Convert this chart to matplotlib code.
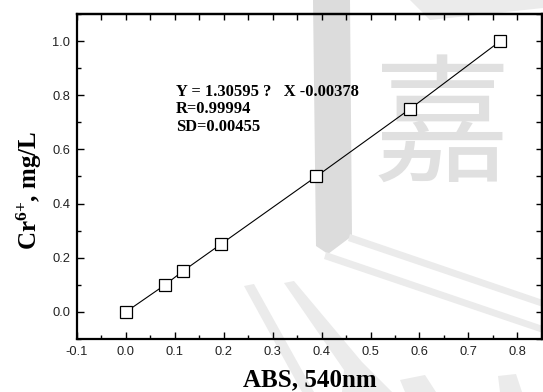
import numpy as np
import matplotlib
matplotlib.use("Agg")
import matplotlib.pyplot as plt
from matplotlib.ticker import MultipleLocator
from matplotlib.patches import Polygon

plt.rcParams["mathtext.fontset"] = "custom"
plt.rcParams["mathtext.bf"] = "Liberation Serif:bold"
plt.rcParams["mathtext.rm"] = "Liberation Serif:bold"
plt.rcParams["mathtext.it"] = "Liberation Serif:bold"

# Calibration data: absorbance at 540 nm vs Cr(VI) concentration
absorbance = [0.000, 0.080, 0.116, 0.194, 0.389, 0.581, 0.765]
concentration = [0.00, 0.10, 0.15, 0.25, 0.50, 0.75, 1.00]

fit_lines = ["Y = 1.30595 ?   X -0.00378", "R=0.99994", "SD=0.00455"]

x_ticks = [-0.1, 0.0, 0.1, 0.2, 0.3, 0.4, 0.5, 0.6, 0.7, 0.8]
y_ticks = [0.0, 0.2, 0.4, 0.6, 0.8, 1.0]

serif = "Liberation Serif"
sans = "Liberation Sans"

W, H = 543, 392
fig = plt.figure(figsize=(W / 100, H / 100), dpi=100)
fig.patch.set_facecolor("white")


def px(points):
    """Pixel positions (origin top-left) to figure fractions."""
    return [(x / W, 1 - y / H) for x, y in points]


# faint background watermark
wm_dark = "#dcdcdc"
wm_light = "#ebebeb"
wm_shapes = [
    ([(313, 0), (350, 0), (352, 236), (328, 254), (316, 246)], wm_dark),
    ([(350, 234), (543, 300), (543, 307), (348, 241)], wm_light),
    ([(326, 252), (543, 326), (543, 333), (324, 259)], wm_light),
    ([(244, 286), (254, 284), (314, 392), (302, 392)], wm_light),
    ([(284, 283), (294, 281), (362, 362), (392, 392), (342, 392), (344, 370)],
     wm_light),
    ([(400, 380), (425, 375), (436, 392), (405, 392)], wm_light),
    ([(498, 376), (516, 374), (522, 392), (500, 392)], wm_light),
    ([(410, 0), (543, 0), (543, 8), (430, 20)], wm_light),
]
for shape, col in wm_shapes:
    fig.patches.append(Polygon(px(shape), closed=True, transform=fig.transFigure,
                               facecolor=col, edgecolor="none", zorder=-2))
fig.text(0.815, 0.665, "嘉", fontsize=100, color="#e0e0e0",
         family=["Noto Sans CJK SC", "DejaVu Sans"], ha="center", va="center",
         zorder=-1)

ax = fig.add_axes([0.1418, 0.1352, 0.856, 0.8291])
ax.set_facecolor("none")

ax.plot(absorbance, concentration, color="black", lw=0.8,
        marker="s", markersize=8.5, markerfacecolor="white",
        markeredgecolor="black", markeredgewidth=0.9, zorder=3)

ax.set_xlim(-0.1, 0.85)
ax.set_ylim(-0.1, 1.1)

ax.set_xticks(x_ticks)
ax.set_xticklabels([f"{v:.1f}" for v in x_ticks])
ax.set_yticks(y_ticks)
ax.set_yticklabels([f"{v:.1f}" for v in y_ticks])
ax.xaxis.set_minor_locator(MultipleLocator(0.05))
ax.yaxis.set_minor_locator(MultipleLocator(0.1))

ax.tick_params(which="both", direction="in", top=False, right=False,
               width=1.0, color="black")
ax.tick_params(which="major", length=5)
ax.tick_params(which="minor", length=3)
ax.tick_params(axis="x", which="major", pad=5)
ax.tick_params(axis="y", which="major", pad=5)
for lab in ax.get_xticklabels() + ax.get_yticklabels():
    lab.set_fontfamily(sans)
    lab.set_fontsize(9.3)
    lab.set_color("#222222")

for sp in ax.spines.values():
    sp.set_linewidth(1.6)

# top and right axes carry uniform inward ticks without labels
top = ax.secondary_xaxis("top")
top.set_xticks(np.arange(-0.1, 0.851, 0.05))
top.tick_params(direction="in", length=4.5, width=1.0, labeltop=False)
top.spines["top"].set_linewidth(1.6)
right = ax.secondary_yaxis("right")
right.set_yticks(np.arange(-0.1, 1.101, 0.1))
right.tick_params(direction="in", length=4.5, width=1.0, labelright=False)
right.spines["right"].set_linewidth(1.6)

ax.set_xlabel("ABS, 540nm", fontfamily=serif, fontweight="bold", fontsize=18)
ax.set_ylabel(r"Cr$^{\mathbf{6{+}}}$, mg/L", fontfamily=serif,
              fontweight="bold", fontsize=18)
ax.xaxis.set_label_coords(0.5, -0.09)
ax.yaxis.set_label_coords(-0.072, 0.456)

ax.text(0.102, 0.748, "\n".join(fit_lines), fontfamily=serif,
        fontweight="bold", fontsize=11.9, va="center", ha="left",
        linespacing=1.12)

fig.savefig("out.png", dpi=100)
